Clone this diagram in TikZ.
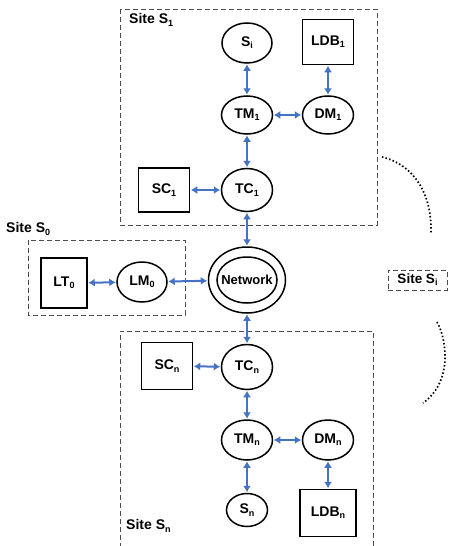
\documentclass[tikz,border=0pt]{standalone}
\usepackage{fontspec}
\setmainfont{Liberation Sans}
\usetikzlibrary{shapes.geometric,arrows.meta}
\newcommand\sbs[1]{\raisebox{-0.3ex}{\fontsize{9}{9}\selectfont #1}}
\definecolor{arrowblue}{RGB}{68,114,196}
\tikzset{
  lbl/.style={font=\bfseries\fontsize{14}{16}\selectfont},
  ell/.style={draw, line width=1.5pt, ellipse, inner sep=0pt, lbl},
  boxnode/.style={draw, line width=1.5pt, rectangle, inner sep=0pt, lbl},
  sitebox/.style={draw=black!70, line width=1pt, dash pattern=on 5pt off 3pt},
  sitelabel/.style={font=\bfseries\fontsize{14}{16}\selectfont, anchor=west, inner sep=0pt},
  biarrow/.style={draw=arrowblue, line width=2pt, {Latex[length=6.5pt,width=8pt]}-{Latex[length=6.5pt,width=8pt]}, shorten <=0.5pt, shorten >=0.5pt},
  dots/.style={line width=1.7pt, dash pattern=on 1.5pt off 2.2pt}
}
\begin{document}
\begin{tikzpicture}[x=1pt,y=-1pt]
\useasboundingbox (0,0) rectangle (452,546);
% site boxes
\draw[sitebox] (120,9) rectangle (377,225);
\draw[sitebox] (28,240) rectangle (185,315);
\draw[sitebox] (373,546) -- (373,331) -- (120,331) -- (120,546);
\node[sitebox, minimum width=59pt, minimum height=20pt, inner sep=0pt, font=\bfseries\fontsize{13.5}{15}\selectfont] (siteSi) at (417.5,280) {Site S\sbs{i}};
\node[sitelabel] (lblS1) at (129,20) {Site S\sbs{1}};
\node[sitelabel] (lblS0) at (6,229) {Site S\sbs{0}};
\node[sitelabel] (lblSn) at (126,526) {Site S\sbs{n}};
% site S1
\node[ell, minimum width=50pt, minimum height=40pt] (Si) at (247,43) {S\sbs{i}};
\node[boxnode, minimum width=51pt, minimum height=45pt] (LDB1) at (328,42) {LDB\sbs{1}};
\node[ell, minimum width=51pt, minimum height=38pt] (TM1) at (247,115) {TM\sbs{1}};
\node[ell, minimum width=51pt, minimum height=38pt] (DM1) at (328,115) {DM\sbs{1}};
\node[boxnode, minimum width=51pt, minimum height=44pt] (SC1) at (164,190) {SC\sbs{1}};
\node[ell, minimum width=51pt, minimum height=43pt] (TC1) at (247,190) {TC\sbs{1}};
% network and site S0
\node[draw, line width=1.5pt, ellipse, minimum width=77pt, minimum height=66pt, inner sep=0pt] (net) at (247,280) {};
\node[inner sep=0pt, font=\bfseries\fontsize{13}{15}\selectfont] (netin) at (247,280) {Network};
\draw[line width=1.5pt] (netin.center) ellipse [x radius=30pt, y radius=23pt];
\node[ell, minimum width=50pt, minimum height=40pt] (LM0) at (142,282) {LM\sbs{0}};
\node[boxnode, minimum width=46pt, minimum height=50pt] (LT0) at (64,283) {LT\sbs{0}};
% site Sn
\node[boxnode, minimum width=51pt, minimum height=47pt] (SCn) at (167,366) {SC\sbs{n}};
\node[ell, minimum width=51pt, minimum height=45pt] (TCn) at (247,367) {TC\sbs{n}};
\node[ell, minimum width=51pt, minimum height=40pt] (TMn) at (247,440) {TM\sbs{n}};
\node[ell, minimum width=51pt, minimum height=40pt] (DMn) at (328,440) {DM\sbs{n}};
\node[ell, minimum width=41pt, minimum height=33pt] (Sn) at (247,510) {S\sbs{n}};
\node[boxnode, minimum width=56pt, minimum height=47pt] (LDBn) at (328,513) {LDB\sbs{n}};
% connectors
\draw[biarrow] (Si) -- (TM1);
\draw[biarrow] (LDB1) -- (DM1);
\draw[biarrow] (TM1) -- (DM1);
\draw[biarrow] (TM1) -- (TC1);
\draw[biarrow] (SC1) -- (TC1);
\draw[biarrow] (TC1) -- (net);
\draw[biarrow] (LT0) -- (LM0);
\draw[biarrow] (LM0) -- (net);
\draw[biarrow] (net) -- (TCn);
\draw[biarrow] (SCn) -- (TCn);
\draw[biarrow] (TCn) -- (TMn);
\draw[biarrow] (TMn) -- (DMn);
\draw[biarrow] (TMn) -- (Sn);
\draw[biarrow] (DMn) -- (LDBn);
% dotted arcs
\coordinate (a1) at (382,157);
\coordinate (a2) at (431,233);
\coordinate (b1) at (437,322);
\coordinate (b2) at (423,403);
\draw[dots] (a1) .. controls (415,165) and (432,195) .. (a2);
\draw[dots] (b1) .. controls (445,335) and (455,380) .. (b2);
\end{tikzpicture}
\end{document}
